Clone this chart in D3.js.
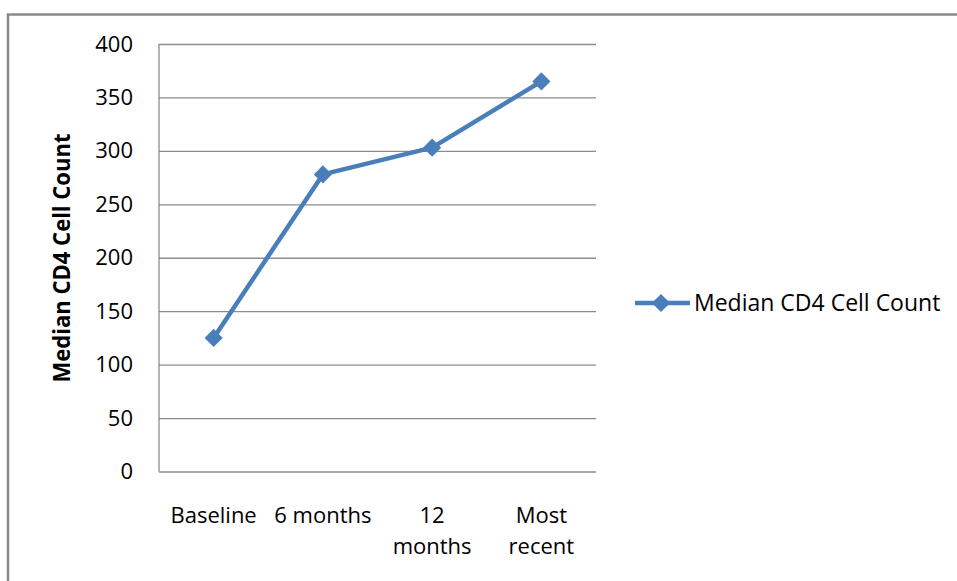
<!DOCTYPE html>
<html>
<head>
<meta charset="utf-8">
<script src="https://cdn.jsdelivr.net/npm/d3@7"></script>
<style>
  html, body { margin: 0; padding: 0; background: #fff; }
  svg { display: block; }
  text { font-family: "Open Sans", "Noto Sans", sans-serif; fill: #000; }
</style>
</head>
<body>
<svg id="chart" width="957" height="581"></svg>
<script>
// Median CD4 count at each follow-up point
const categories = ["Baseline", "6 months", "12 months", "Most recent"];
const categoryLines = [["Baseline"], ["6 months"], ["12", "months"], ["Most", "recent"]];
const medianCD4 = [125, 278, 303, 365];
const yTicks = [0, 50, 100, 150, 200, 250, 300, 350, 400];
const seriesName = "Median CD4 Cell Count";
const yTitle = "Median CD4 Cell Count";

const svg = d3.select("#chart");
const plot = { left: 159, right: 596, top: 44, bottom: 471.5 };
const lineColor = "#4a7ebb";
const gridColor = "#8c8c8c";

// Outer chart frame
svg.append("rect")
  .attr("x", 8).attr("y", 14.5)
  .attr("width", 960).attr("height", 600)
  .attr("fill", "none").attr("stroke", "#8a8a8a").attr("stroke-width", 2.5);

const x = d3.scaleBand().domain(categories).range([plot.left, plot.right]);
const y = d3.scaleLinear().domain([0, 400]).range([plot.bottom, plot.top]);

// Horizontal gridlines with value labels
const yAxis = d3.axisLeft(y).tickValues(yTicks).tickSize(-(plot.right - plot.left)).tickPadding(26);
const gy = svg.append("g").attr("transform", `translate(${plot.left},0)`).call(yAxis);
gy.select(".domain").remove();
gy.selectAll(".tick line").attr("stroke", gridColor).attr("stroke-width", 1.3);
gy.selectAll(".tick text")
  .attr("font-size", 22).attr("font-family", "Open Sans").attr("fill", "#000");

// Left axis line
svg.append("line")
  .attr("x1", plot.left).attr("x2", plot.left)
  .attr("y1", plot.top).attr("y2", plot.bottom)
  .attr("stroke", gridColor).attr("stroke-width", 1.3);

// Category labels (wrapped)
const gx = svg.append("g");
categories.forEach((c, i) => {
  const t = gx.append("text")
    .attr("x", x(c) + x.bandwidth() / 2)
    .attr("y", 523)
    .attr("text-anchor", "middle")
    .attr("font-size", 22);
  categoryLines[i].forEach((ln, j) => {
    t.append("tspan")
      .attr("x", x(c) + x.bandwidth() / 2)
      .attr("dy", j === 0 ? 0 : 31)
      .text(ln);
  });
});

// Y axis title
svg.append("text")
  .attr("transform", `translate(70,258) rotate(-90)`)
  .attr("text-anchor", "middle")
  .attr("font-size", 23)
  .attr("font-weight", "bold")
  .attr("textLength", 249)
  .attr("lengthAdjust", "spacingAndGlyphs")
  .text(yTitle);

// Series line
const pts = categories.map((c, i) => [x(c) + x.bandwidth() / 2, y(medianCD4[i])]);
svg.append("path")
  .attr("d", d3.line()(pts))
  .attr("fill", "none")
  .attr("stroke", lineColor)
  .attr("stroke-width", 4.5)
  .attr("stroke-linejoin", "round");

const diamond = d3.symbol().type(d3.symbolSquare).size(165);
svg.append("g").selectAll("path")
  .data(pts)
  .join("path")
  .attr("transform", d => `translate(${d[0]},${d[1]}) rotate(45)`)
  .attr("d", diamond)
  .attr("fill", lineColor);

// Legend
const lg = svg.append("g");
lg.append("line")
  .attr("x1", 635).attr("x2", 690).attr("y1", 303).attr("y2", 303)
  .attr("stroke", lineColor).attr("stroke-width", 4.5);
lg.append("path")
  .attr("transform", "translate(661,303) rotate(45)")
  .attr("d", diamond)
  .attr("fill", lineColor);
lg.append("text")
  .attr("x", 694).attr("y", 311)
  .attr("font-size", 23)
  .text(seriesName);
</script>
</body>
</html>
